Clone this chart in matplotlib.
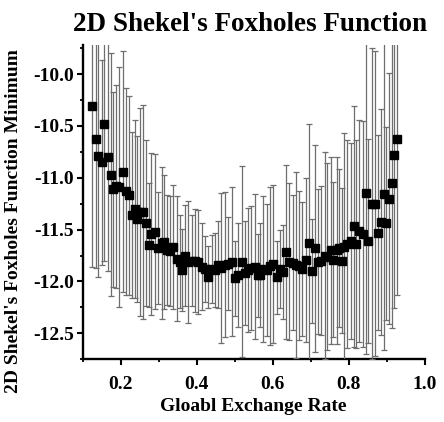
import matplotlib
matplotlib.use("Agg")
import matplotlib.pyplot as plt
from matplotlib.ticker import MultipleLocator

rate = [0.126, 0.134, 0.141, 0.150, 0.157, 0.166, 0.174, 0.181, 0.189, 0.197,
        0.205, 0.213, 0.221, 0.229, 0.238, 0.244, 0.251, 0.259, 0.268, 0.275,
        0.281, 0.290, 0.299, 0.308, 0.314, 0.322, 0.330, 0.338, 0.347, 0.355,
        0.361, 0.369, 0.378, 0.387, 0.395, 0.404, 0.413, 0.422, 0.430, 0.439,
        0.448, 0.457, 0.465, 0.474, 0.483, 0.492, 0.500, 0.509, 0.518, 0.527,
        0.535, 0.544, 0.553, 0.560, 0.567, 0.575, 0.584, 0.592, 0.601, 0.610,
        0.619, 0.626, 0.635, 0.643, 0.652, 0.661, 0.670, 0.677, 0.687, 0.696,
        0.702, 0.711, 0.720, 0.728, 0.737, 0.743, 0.752, 0.759, 0.768, 0.775,
        0.781, 0.787, 0.796, 0.805, 0.813, 0.820, 0.827, 0.836, 0.844, 0.851,
        0.860, 0.869, 0.876, 0.884, 0.892, 0.899, 0.906, 0.914, 0.920, 0.927]

minimum = [-10.31, -10.63, -10.79, -10.85, -10.48, -10.80, -10.97, -11.11, -11.08, -11.09,
           -10.94, -11.13, -11.17, -11.36, -11.30, -11.40, -11.33, -11.33, -11.44, -11.65,
           -11.54, -11.52, -11.68, -11.63, -11.62, -11.70, -11.71, -11.67, -11.78, -11.81,
           -11.89, -11.75, -11.81, -11.80, -11.80, -11.81, -11.86, -11.88, -11.96, -11.88,
           -11.89, -11.84, -11.87, -11.84, -11.83, -11.81, -11.97, -11.94, -11.81, -11.92,
           -11.89, -11.87, -11.86, -11.94, -11.94, -11.88, -11.89, -11.85, -11.83, -11.96,
           -11.88, -11.91, -11.72, -11.81, -11.82, -11.84, -11.85, -11.88, -11.79, -11.63,
           -11.90, -11.68, -11.81, -11.80, -11.75, -11.76, -11.70, -11.79, -11.70, -11.68,
           -11.80, -11.67, -11.64, -11.61, -11.47, -11.64, -11.51, -11.54, -11.15, -11.61,
           -11.25, -11.25, -11.53, -11.43, -11.16, -11.44, -11.20, -11.05, -10.78, -10.63]

spread = [1.55, 1.24, 1.17, 0.99, 1.32, 1.10, 1.17, 0.94, 0.98, 1.16,
          1.16, 1.00, 0.96, 0.80, 0.86, 0.80, 1.00, 1.03, 0.80, 0.60,
          0.78, 0.75, 0.54, 0.73, 0.65, 0.53, 0.53, 0.60, 0.60, 0.45,
          0.40, 0.49, 0.59, 0.44, 0.50, 0.50, 0.42, 0.32, 0.30, 0.33,
          0.36, 0.42, 0.72, 0.70, 0.45, 0.72, 0.36, 0.50, 0.92, 0.50,
          0.60, 0.60, 0.70, 0.40, 0.50, 0.70, 0.64, 0.76, 0.76, 0.35,
          0.38, 0.45, 0.84, 0.76, 0.65, 0.90, 0.72, 0.65, 0.79, 1.15,
          0.50, 1.00, 0.70, 0.72, 1.00, 0.90, 0.90, 0.75, 0.90, 0.76,
          0.70, 1.10, 1.00, 0.95, 1.16, 1.00, 1.07, 1.09, 1.55, 0.98,
          1.50, 1.47, 0.94, 1.09, 1.50, 0.93, 1.21, 1.40, 1.48, 1.50]

title = "2D Shekel's Foxholes Function"
xlabel = "Gloabl Exchange Rate"
ylabel = "2D Shekel's Foxholes Function Minimum"

plt.rcParams['font.family'] = ['Liberation Serif', 'DejaVu Serif']
plt.rcParams['font.weight'] = 'bold'

fig = plt.figure(figsize=(4.44, 4.22), dpi=100)
ax = fig.add_axes([0.186, 0.149, 0.771, 0.744])

ax.errorbar(rate, minimum, yerr=spread, fmt='s', color='black', markersize=5.5,
            ecolor='#6e6e6e', elinewidth=0.9, capsize=2, capthick=0.9, zorder=3)

ax.set_xlim(0.1, 1.0)
ax.set_ylim(-12.75, -9.72)
ax.xaxis.set_minor_locator(MultipleLocator(0.1))
ax.yaxis.set_minor_locator(MultipleLocator(0.25))
ax.set_xticks([0.2, 0.4, 0.6, 0.8, 1.0])
ax.set_xticklabels(['0.2', '0.4', '0.6', '0.8', '1.0'])
ax.set_yticks([-10.0, -10.5, -11.0, -11.5, -12.0, -12.5])
ax.set_yticklabels(['-10.0', '-10.5', '-11.0', '-11.5', '-12.0', '-12.5'])

for s in ['top', 'right']:
    ax.spines[s].set_visible(False)
for s in ['left', 'bottom']:
    ax.spines[s].set_linewidth(1.7)

ax.tick_params(which='major', direction='out', length=4, width=1.5, labelsize=14)
ax.tick_params(axis='x', which='major', pad=8)
ax.tick_params(axis='y', which='major', pad=2)
ax.tick_params(which='minor', direction='out', length=2.5, width=1.3)
for lab in ax.get_xticklabels() + ax.get_yticklabels():
    lab.set_fontweight('bold')

ax.set_title(title, fontsize=19.5, fontweight='bold', pad=10, x=0.49)
ax.set_xlabel(xlabel, fontsize=14, fontweight='bold', labelpad=4)
ax.set_ylabel(ylabel, fontsize=14, fontweight='bold')
ax.yaxis.set_label_coords(-0.178, 0.44)

fig.savefig('out.png', dpi=100)
